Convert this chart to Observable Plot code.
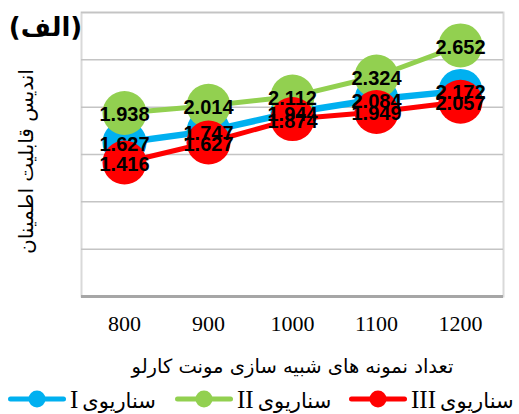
<!DOCTYPE html>
<html>
<head>
<meta charset="utf-8">
<script src="https://cdn.jsdelivr.net/npm/d3@7"></script>
<script src="https://cdn.jsdelivr.net/npm/@observablehq/plot@0.6"></script>
<style>
  html, body { margin: 0; padding: 0; background: #fff; }
  #wrap { width: 519px; height: 414px; position: relative; overflow: hidden; }
  .legend { position: absolute; left: 0; top: 388px; width: 519px; height: 26px; }
  .item { position: absolute; top: 0; height: 26px; display: flex; align-items: center; }
  .item .lbl { line-height: 26px; color: #000; white-space: nowrap; }
  .item .ar { font-family: "DejaVu Sans", sans-serif; font-size: 21px; }
  .item .la { font-family: "Liberation Serif", serif; font-size: 25px; }
</style>
</head>
<body>
<div id="wrap"></div>
<script>
const categories = ["800", "900", "1000", "1100", "1200"];
const scenarioI = [1.627, 1.747, 1.944, 2.084, 2.172];
const scenarioII = [1.938, 2.014, 2.112, 2.324, 2.652];
const scenarioIII = [1.416, 1.627, 1.874, 1.949, 2.057];
const seriesWord = "سناریوی";
const seriesNumerals = ["I", "II", "III"];
const seriesNames = seriesNumerals.map(n => seriesWord + " " + n);
const seriesColors = ["#00B0F0", "#92D050", "#FF0000"];
const yTicks = [0, 0.5, 1, 1.5, 2, 2.5, 3];
const titleText = "(الف)";
const xLabel = "تعداد نمونه های شبیه سازی مونت کارلو";
const yLabel = "اندیس قابلیت اطمینان";

const allSeries = [scenarioI, scenarioII, scenarioIII];
const data = allSeries.flatMap((vals, s) =>
  vals.map((v, i) => ({ cat: categories[i], value: v, series: seriesNames[s] })));
const lineWidths = [6.5, 5, 5];

const marks = [
  Plot.frame({ stroke: "#d9d9d9", strokeWidth: 2 }),
  Plot.ruleY(yTicks.slice(1), { stroke: "#c4c4c4", strokeWidth: 1.5 }),
  Plot.ruleY([0], { stroke: "#a6a6a6", strokeWidth: 3 }),
  Plot.axisX({ tickSize: 0, tickPadding: 19, fontSize: 22, fontFamily: "Liberation Serif", fill: "#000", label: null }),
];
seriesNames.forEach((name, s) => {
  const d = data.filter(r => r.series === name);
  marks.push(Plot.line(d, { x: "cat", y: "value", stroke: seriesColors[s], strokeWidth: lineWidths[s] }));
  marks.push(Plot.dot(d, { x: "cat", y: "value", r: 22, fill: seriesColors[s], stroke: "none" }));
});
seriesNames.forEach((name, s) => {
  const d = data.filter(r => r.series === name);
  marks.push(Plot.text(d, { x: "cat", y: "value", text: r => r.value.toFixed(3), dy: 2,
    fontSize: 20, fontWeight: "bold", fontFamily: "Liberation Sans", fill: "#000" }));
});
marks.push(Plot.text([xLabel], { frameAnchor: "bottom", dy: 70, lineAnchor: "middle", textAnchor: "middle", text: d => d, fontSize: 19.5, fontFamily: "DejaVu Sans", fill: "#000" }));
marks.push(Plot.text([yLabel], { frameAnchor: "left", dx: -55, dy: 7, rotate: -90, textAnchor: "middle", lineAnchor: "middle", text: d => d, fontSize: 20, fontFamily: "DejaVu Sans", fill: "#000" }));
marks.push(Plot.text([titleText], { frameAnchor: "top-left", dx: -36, dy: 15, textAnchor: "middle", lineAnchor: "middle", text: d => d, fontSize: 26, fontWeight: "bold", fontFamily: "DejaVu Sans", fill: "#000" }));

const chart = Plot.plot({
  width: 519,
  height: 375,
  marginLeft: 81,
  marginRight: 16,
  marginTop: 12,
  marginBottom: 79,
  style: { background: "#fff", overflow: "visible" },
  x: { type: "point", domain: categories, padding: 0.5, axis: null },
  y: { domain: [0, 3], axis: null },
  marks
});
const wrap = document.getElementById("wrap");
wrap.appendChild(chart);

const legend = document.createElement("div");
legend.className = "legend";
const itemLefts = [8, 175, 349];
seriesNames.forEach((name, s) => {
  const item = document.createElement("div");
  item.className = "item";
  item.style.left = itemLefts[s] + "px";
  const sw = d3.create("svg").attr("width", 58).attr("height", 20);
  sw.append("line").attr("x1", 2.5).attr("x2", 55.5).attr("y1", 10).attr("y2", 10)
    .attr("stroke", seriesColors[s]).attr("stroke-width", 5).attr("stroke-linecap", "round");
  sw.append("circle").attr("cx", 29).attr("cy", 10).attr("r", 8.5).attr("fill", seriesColors[s]);
  sw.style("margin-top", "-5px");
  item.appendChild(sw.node());
  const t = document.createElement("span");
  t.className = "lbl";
  t.setAttribute("dir", "rtl");
  t.style.marginLeft = "4px";
  const ar = document.createElement("span");
  ar.className = "ar";
  ar.textContent = seriesWord;
  const la = document.createElement("span");
  la.className = "la";
  la.textContent = seriesNumerals[s];
  t.appendChild(ar);
  t.appendChild(document.createTextNode(" "));
  t.appendChild(la);
  item.appendChild(t);
  legend.appendChild(item);
});
wrap.appendChild(legend);
</script>
</body>
</html>
